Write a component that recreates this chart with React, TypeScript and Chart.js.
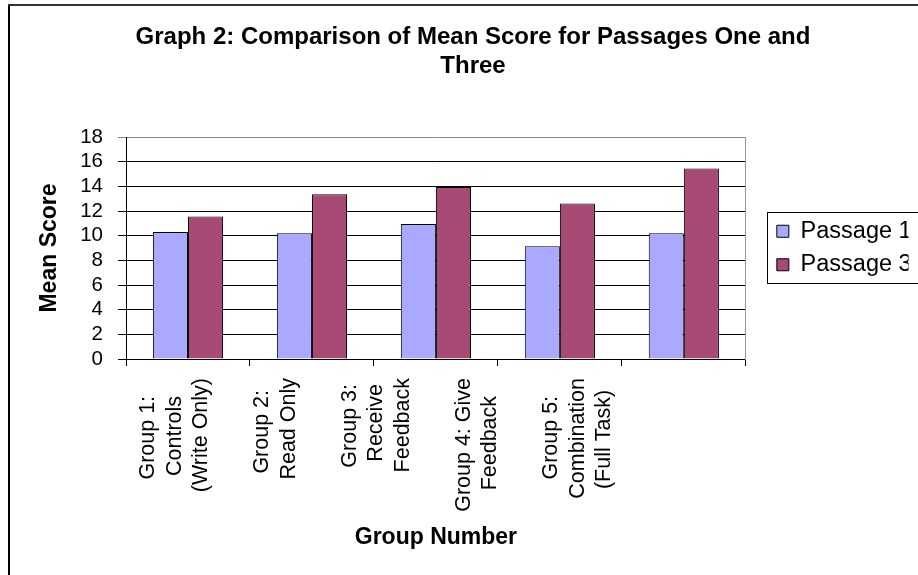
import React, { useEffect, useRef } from 'react';
import { Chart, registerables } from 'chart.js';

Chart.register(...registerables);

const chartTitle = ['Graph 2: Comparison of Mean Score for Passages One and', 'Three'];
const categories = [
  ['Group 1:', 'Controls', '(Write Only)'],
  ['Group 2:', 'Read Only'],
  ['Group 3:', 'Receive', 'Feedback'],
  ['Group 4: Give', 'Feedback'],
  ['Group 5:', 'Combination', '(Full Task)'],
];
const seriesNames = ['Passage 1', 'Passage 3'];
const passage1 = [10.3, 10.2, 10.95, 9.15, 10.2];
const passage3 = [11.55, 13.35, 13.95, 12.6, 15.45];
const yMin = 0;
const yMax = 18;
const yStep = 2;
const yAxisTitle = 'Mean Score';
const xAxisTitle = 'Group Number';

const FONT = "'Liberation Sans', Arial, Helvetica, sans-serif";
const LABEL_SIZE = 21.5;

export default function App() {
  const ref = useRef<HTMLCanvasElement | null>(null);

  useEffect(() => {
    if (!ref.current) return;
    Chart.defaults.font.family = FONT;
    Chart.defaults.color = '#000';

    // Excel placed the rotated group labels on a narrower pitch than the categories
    const labelStart = -0.105;
    const labelPitch = 0.812;
    const lineStep = 0.214;
    const labelAnchors = categories.map(
      (lines, i) => labelStart + labelPitch * i - ((lines.length - 1) / 2) * lineStep
    );

    // centre the lines of each rotated label (Chart.js right-aligns rotated lines)
    const mctx = document.createElement('canvas').getContext('2d') as CanvasRenderingContext2D;
    mctx.font = `${LABEL_SIZE}px ${FONT}`;
    const spaceW = mctx.measureText(' ').width;
    const centredLabels = categories.map((lines) => {
      const widths = lines.map((l) => mctx.measureText(l).width);
      const max = Math.max(...widths);
      return lines.map((l, k) => l + ' '.repeat(Math.max(0, Math.round((max - widths[k]) / 2 / spaceW))));
    });

    const framePlugin = {
      id: 'frame',
      beforeDraw(chart: any) {
        const { ctx, width, height } = chart;
        ctx.save();
        ctx.fillStyle = '#fff';
        ctx.fillRect(0, 0, width, height);
        ctx.fillStyle = '#000';
        ctx.fillRect(8, 5, 2, height);
        ctx.fillStyle = '#333';
        ctx.fillRect(8, 4, width, 2);
        ctx.restore();
      },
      afterLayout(chart: any) {
        const lg = chart.legend;
        const ca = chart.chartArea;
        const w = lg.width;
        lg.left = ca.right + 21;
        lg.right = lg.left + w;
        lg.top = ca.top;
        lg.bottom = ca.bottom;
        lg.height = ca.bottom - ca.top;
      },
      afterDraw(chart: any) {
        const lg = chart.legend;
        const ca = chart.chartArea;
        const mid = (ca.top + ca.bottom) / 2;
        const { ctx } = chart;
        ctx.save();
        ctx.strokeStyle = '#000';
        ctx.lineWidth = 1;
        ctx.strokeRect(Math.round(lg.left) + 0.5, Math.round(mid - 36) + 0.5, 400, 71);
        ctx.restore();
      },
    };

    const chart = new Chart(ref.current, {
      type: 'bar',
      data: {
        labels: categories,
        datasets: [
          {
            label: seriesNames[0],
            data: passage1,
            backgroundColor: '#A9A9FF',
            borderColor: '#000',
            borderWidth: 1,
            categoryPercentage: 0.566,
            barPercentage: 1,
          },
          {
            label: seriesNames[1],
            data: passage3,
            backgroundColor: '#A84A76',
            borderColor: '#000',
            borderWidth: 1,
            categoryPercentage: 0.566,
            barPercentage: 1,
          },
        ],
      },
      options: {
        responsive: false,
        animation: false,
        events: [],
        layout: { padding: { left: 48, right: 20, top: 0, bottom: 0 } },
        plugins: {
          tooltip: { enabled: false },
          title: {
            display: true,
            text: chartTitle,
            color: '#000',
            font: { family: FONT, size: 24, weight: 'bold', lineHeight: 29 / 24 },
            padding: { top: 22.5, bottom: 56.5 },
          },
          legend: {
            display: true,
            position: 'right',
            align: 'center',
            labels: {
              boxWidth: 12,
              boxHeight: 12,
              padding: 10,
              color: '#000',
              font: { family: FONT, size: 23.5 },
            },
          },
        },
        scales: {
          x: {
            type: 'category',
            position: 'bottom',
            offset: true,
            grid: {
              display: true,
              offset: true,
              drawOnChartArea: false,
              drawTicks: true,
              tickLength: 7,
              color: '#000',
            },
            border: { display: true, color: '#000', width: 1 },
            ticks: { display: false },
            afterFit: (s: any) => {
              s.height = 7;
            },
          },
          x2: {
            type: 'linear',
            position: 'bottom',
            weight: 1,
            offset: false,
            min: -0.5,
            max: 4.5,
            bounds: 'data',
            grid: { display: false, drawTicks: false, offset: false },
            border: { display: false },
            afterBuildTicks: (s: any) => {
              s.ticks = labelAnchors.map((v) => ({ value: v }));
            },
            ticks: {
              autoSkip: false,
              minRotation: 90,
              maxRotation: 90,
              padding: 12,
              color: '#000',
              font: { family: FONT, size: LABEL_SIZE, lineHeight: 26.5 / LABEL_SIZE },
              callback: (_v: any, i: number) => centredLabels[i],
            },
            title: {
              display: true,
              text: xAxisTitle,
              color: '#000',
              font: { family: FONT, size: 23, weight: 'bold', lineHeight: 1.2 },
              padding: { top: 0, bottom: 24 },
            },
            afterFit: (s: any) => {
              s.height = 209;
            },
          },
          y: {
            type: 'linear',
            position: 'left',
            min: yMin,
            max: yMax,
            ticks: {
              stepSize: yStep,
              autoSkip: false,
              color: '#000',
              padding: 15,
              font: { family: FONT, size: 20.5 },
            },
            grid: {
              drawTicks: true,
              tickLength: 8,
              color: (c: any) => (c.tick && c.tick.value === yMax ? '#888' : '#000'),
            },
            border: { display: true, color: '#000', width: 1 },
            title: {
              display: true,
              text: yAxisTitle,
              color: '#000',
              font: { family: FONT, size: 23, weight: 'bold', lineHeight: 1.2 },
              padding: { top: -12, bottom: 0 },
            },
            afterFit: (s: any) => {
              s.width = 78;
            },
          },
          y2: {
            type: 'linear',
            position: 'right',
            min: yMin,
            max: yMax,
            grid: { display: false, drawTicks: false },
            ticks: { display: false },
            border: { display: true, color: '#999', width: 1 },
            afterFit: (s: any) => {
              s.width = 10.5;
            },
          },
        },
      },
      plugins: [framePlugin],
    } as any);

    return () => chart.destroy();
  }, []);

  return (
    <canvas
      ref={ref}
      width={918}
      height={575}
      style={{ display: 'block', position: 'fixed', left: 0, top: 0 }}
    />
  );
}
